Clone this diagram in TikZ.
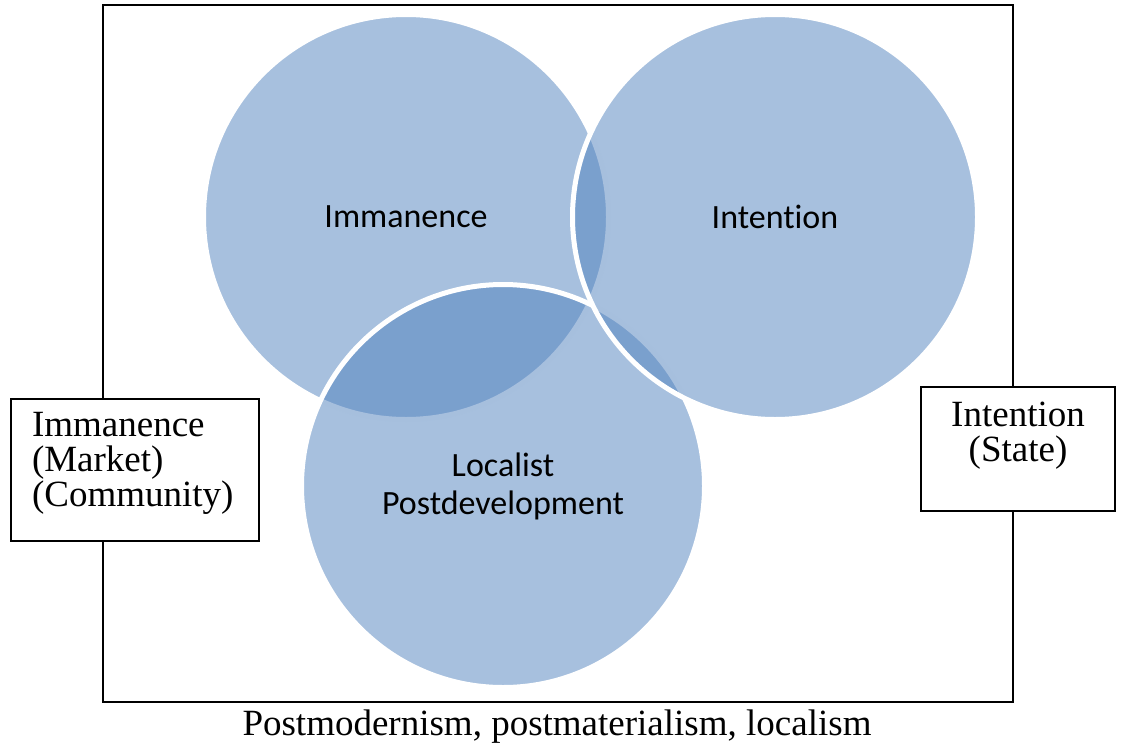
\documentclass[tikz,border=0pt]{standalone}
\usepackage{fontspec}
\setmainfont{Liberation Serif}
\newfontfamily\calfont[Ligatures=NoCommon]{Carlito}
\definecolor{vennblue}{HTML}{4F81BD}
\begin{document}
\begin{tikzpicture}[x=1pt,y=-1pt,
  venn/.style={circle,draw=white,line width=5pt,fill=vennblue,fill opacity=0.5,
    draw opacity=1,text opacity=1,minimum size=405pt,inner sep=0pt,outer sep=0pt,
    align=center,font=\calfont\fontsize{34}{38}\selectfont},
  sidebox/.style={draw=black,line width=1.4pt,fill=white,inner sep=0pt,outer sep=0pt},
  serif/.style={font=\fontsize{37}{35}\selectfont,inner sep=0pt,outer sep=0pt}]
\useasboundingbox (0,0) rectangle (1123,744);
% outer frame
\node[draw=black,line width=1.6pt,minimum width=910pt,minimum height=697pt,inner sep=0pt,outer sep=0pt] (frame) at (558,353.5) {};
% side boxes
\node[sidebox,minimum width=248pt,minimum height=142pt] (lbox) at (135,470) {};
\node[serif,anchor=north west,align=left] (ltext) at (32,412.5) {Immanence\\(Market)\\(Community)};
\node[sidebox,minimum width=194pt,minimum height=124pt] (rbox) at (1018,449) {};
\node[serif,anchor=north,align=center] (rtext) at (1018,401.5) {Intention\\(State)};
% circles
\node[venn] (imm) at (406,217) {Immanence};
\node[venn,minimum size=403pt] (loc) at (503,486) {Localist\\Postdevelopment};
\node[venn] (int) at (775,217) {Intention};
% bottom caption
\node[serif,anchor=base] (caption) at (557,735) {Postmodernism, postmaterialism, localism};
\end{tikzpicture}
\end{document}
